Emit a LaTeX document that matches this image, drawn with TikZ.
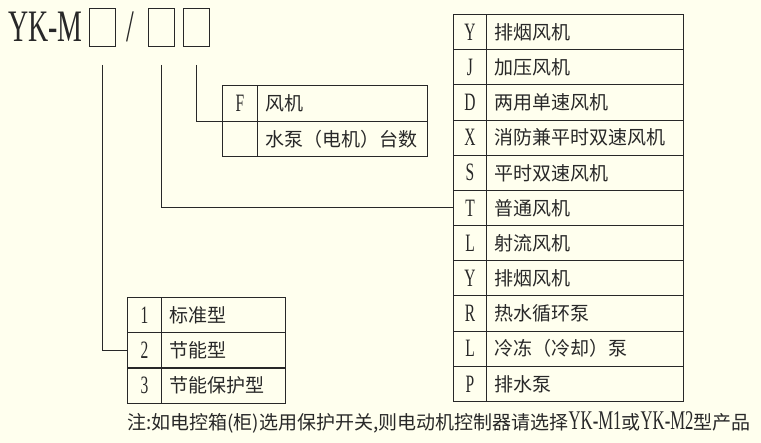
\documentclass[tikz,border=0pt]{standalone}
\usepackage{fontspec}
\setmainfont{Noto Sans CJK SC}
\newfontfamily\cjk{Noto Sans CJK SC}
\newfontfamily\latn[FakeStretch=0.62]{Liberation Serif}
\definecolor{bgc}{RGB}{255,255,238}
\definecolor{ink}{RGB}{40,40,40}
\begin{document}
\begin{tikzpicture}[x=1pt,y=-1pt,
  keycell/.style={draw=ink, line width=1pt, minimum width=#1, minimum height=35.2pt, inner sep=0pt, anchor=north west, font=\fontsize{25}{25}\latn, text=ink},
  desccell/.style={draw=ink, line width=1pt, minimum height=35.2pt, inner xsep=8pt, inner ysep=0pt, anchor=north west, align=left, text width=#1, font=\fontsize{19}{19}\cjk, text=ink},
  boxph/.style={draw=ink, line width=1pt, inner sep=0pt, minimum width=25.5pt, minimum height=38pt, anchor=north west},
  conn/.style={draw=ink, line width=1pt}
]
\fill[bgc] (0,0) rectangle (761,443);
\useasboundingbox (0,0) rectangle (761,443);

% title
\node[anchor=base west, inner sep=0pt, text=ink, font=\fontsize{45}{45}\latn] (title) at (8,42) {YK-M};
\node[boxph] (b1) at (89,8) {};
\node[anchor=base, inner sep=0pt, text=ink, font=\fontsize{45}{45}\latn] (slash) at (130,42) {/};
\node[boxph] (b2) at (148,8) {};
\node[boxph] (b3) at (183,8) {};

% big table
\foreach \k/\d [count=\i] in {Y/排烟风机, J/加压风机, D/两用单速风机, X/消防兼平时双速风机, S/平时双速风机, T/普通风机, L/射流风机, Y/排烟风机, R/热水循环泵, L/冷冻（冷却）泵, P/排水泵}{
  \node[keycell=33pt] (bk\i) at (453,{14+(\i-1)*35.18}) {\k};
  \node[desccell=181pt] (bd\i) at (486,{14+(\i-1)*35.18}) {\d};
}

% F table
\node[keycell=35pt] (fk1) at (222,85.5) {F};
\node[desccell=154pt] (fd1) at (257,85.5) {风机};
\node[keycell=35pt] (fk2) at (222,120.7) {};
\node[desccell=154pt] (fd2) at (257,120.7) {水泵（电机）台数};

% small table
\foreach \k/\d [count=\i] in {1/标准型, 2/节能型, 3/节能保护型}{
  \node[keycell=34pt] (sk\i) at (127,{297+(\i-1)*35.3}) {\k};
  \node[desccell=108pt] (sd\i) at (161,{297+(\i-1)*35.3}) {\d};
}

% connectors
\draw[conn] ([yshift=-18pt]b1.south) |- (sk2.west);
\draw[conn] ([yshift=-18pt]b2.south) |- (bk6.west);
\draw[conn] ([yshift=-18pt]b3.south) |- (fk1.south west);

% note
\node[anchor=west, inner sep=0pt, text=ink, font=\fontsize{19}{19}\cjk] (note) at (127,422) {注:如电控箱(柜)选用保护开关,则电动机控制器请选择{\fontsize{27}{27}\latn YK-M1}或{\fontsize{27}{27}\latn YK-M2}型产品};
\end{tikzpicture}
\end{document}
